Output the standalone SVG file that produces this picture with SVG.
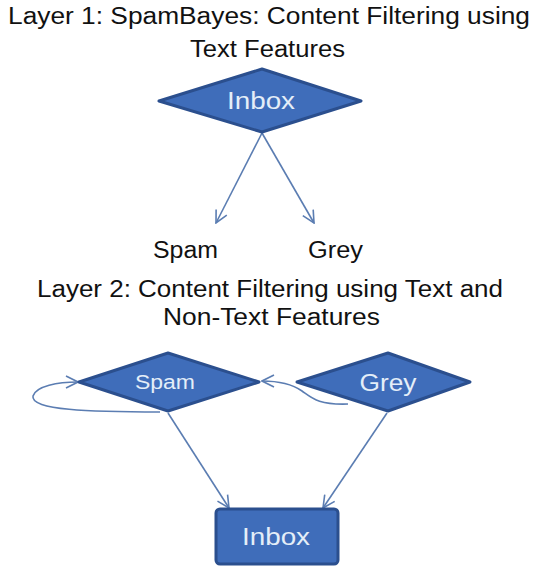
<svg xmlns="http://www.w3.org/2000/svg" width="539" height="568" viewBox="0 0 539 568">
<style>
.title{font-family:"Liberation Sans",Arial,sans-serif;font-size:23px;fill:#111;}
.shape{fill:#3F6DBA;stroke:#2B4F8E;stroke-width:3;stroke-linejoin:round;}
.ntext{font-family:"Liberation Sans",Arial,sans-serif;font-size:23px;fill:#E4EEF8;text-anchor:middle;}
.conn{fill:none;stroke:#5B7DB2;stroke-width:1.6;}
</style>
<defs>
<marker id="arr" viewBox="0 0 14 14" refX="13" refY="7" markerWidth="14" markerHeight="14" markerUnits="userSpaceOnUse" orient="auto">
<path d="M1,1 L13,7 L1,13" fill="none" stroke="#5B7DB2" stroke-width="1.6"/>
</marker>
</defs>
<rect width="539" height="568" fill="#ffffff"/>
<g id="titles">
<text class="title" x="8" y="24" textLength="522" lengthAdjust="spacingAndGlyphs">Layer 1: SpamBayes: Content Filtering using</text>
<text class="title" x="190" y="57" textLength="155" lengthAdjust="spacingAndGlyphs">Text Features</text>
<text class="title" x="37" y="297" textLength="466" lengthAdjust="spacingAndGlyphs">Layer 2: Content Filtering using Text and</text>
<text class="title" x="163" y="325" textLength="217" lengthAdjust="spacingAndGlyphs">Non-Text Features</text>
</g>
<g id="connectors">
<line class="conn" x1="262" y1="133" x2="216" y2="223" marker-end="url(#arr)"/>
<line class="conn" x1="262" y1="133" x2="314" y2="223" marker-end="url(#arr)"/>
<line class="conn" x1="168" y1="413" x2="229" y2="508" marker-end="url(#arr)"/>
<line class="conn" x1="387" y1="413" x2="323" y2="508" marker-end="url(#arr)"/>
<path class="conn" d="M160,412 C90,412 30,410 33,396 C36,386 58,382 78,382" marker-end="url(#arr)"/>
<path class="conn" d="M348,404 C318,405 312,398 302,391 C292,384 280,381 262,381" marker-end="url(#arr)"/>
</g>
<g id="inbox1">
<polygon class="shape" points="262,69 361,101 262,132 159,101"/>
<text class="ntext" x="261" y="109" textLength="68" lengthAdjust="spacingAndGlyphs">Inbox</text>
</g>
<g id="spam-label">
<text class="title" x="153" y="258" textLength="65" lengthAdjust="spacingAndGlyphs">Spam</text>
</g>
<g id="grey-label">
<text class="title" x="308" y="258" textLength="55" lengthAdjust="spacingAndGlyphs">Grey</text>
</g>
<g id="spam2">
<polygon class="shape" points="168,353 259,382 168,411 79,382"/>
<text class="ntext" x="165" y="389" style="font-size:20px" textLength="60" lengthAdjust="spacingAndGlyphs">Spam</text>
</g>
<g id="grey2">
<polygon class="shape" points="388,353 470,382 388,411 297,382"/>
<text class="ntext" x="388" y="391" textLength="57" lengthAdjust="spacingAndGlyphs">Grey</text>
</g>
<g id="inbox2">
<rect class="shape" x="216" y="509" width="122" height="55" rx="4"/>
<text class="ntext" x="276" y="545" textLength="68" lengthAdjust="spacingAndGlyphs">Inbox</text>
</g>
</svg>
